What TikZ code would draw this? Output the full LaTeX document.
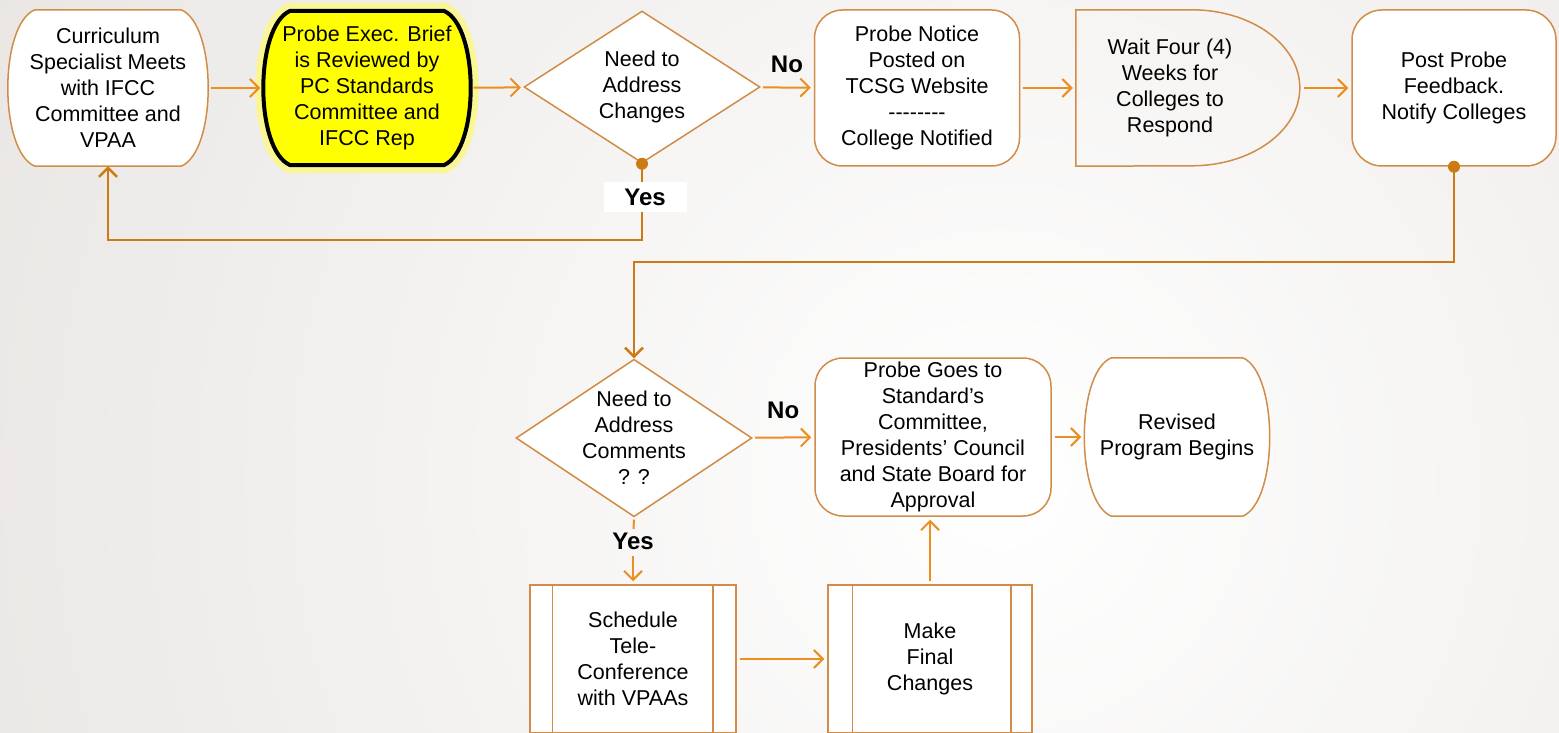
\documentclass[tikz,border=0pt]{standalone}
\usepackage{fontspec}
\setmainfont{Liberation Sans}
\usetikzlibrary{shapes.geometric,arrows.meta}

\definecolor{bordc}{RGB}{208,140,72}
\definecolor{arrc}{RGB}{236,142,32}
\definecolor{linkc}{RGB}{204,122,20}
\definecolor{bggray}{RGB}{212,207,202}
\definecolor{glowc}{RGB}{250,246,150}
\definecolor{briefc}{RGB}{255,255,0}
\pgfdeclarelayer{back}
\pgfdeclarelayer{boxes}
\pgfsetlayers{back,boxes,main}
\newcommand{\dashrow}{\mbox{-}\mbox{-}\mbox{-}\mbox{-}\mbox{-}\mbox{-}\mbox{-}\mbox{-}}
% outline with bulging sides behind a node
\newcommand{\bulgeoutline}[2]{%
    \begin{pgfonlayer}{boxes}
        \draw[bordc, fill=white, line width=1.5pt, #2] ([xshift=27pt]#1.north west) -- ([xshift=-27pt]#1.north east)
            .. controls ([xshift=9pt,yshift=-15pt]#1.north east) and ([xshift=9pt,yshift=15pt]#1.south east) .. ([xshift=-27pt]#1.south east)
            -- ([xshift=27pt]#1.south west)
            .. controls ([xshift=-9pt,yshift=15pt]#1.south west) and ([xshift=-9pt,yshift=-15pt]#1.north west) .. ([xshift=27pt]#1.north west)
            -- cycle;
    \end{pgfonlayer}}

\begin{document}
\begin{tikzpicture}[x=1pt,y=-1pt,
    every node/.style={font=\fontsize{21.5}{26}\selectfont, align=center, text=black},
    endbox/.style={rectangle, inner sep=0pt},
    notebox/.style={rectangle, rounded corners=28pt, draw=bordc, fill=white, line width=1.5pt, inner sep=0pt},
    askbox/.style={diamond, draw=bordc, fill=white, line width=1.5pt, inner sep=-10pt},
    procbox/.style={rectangle, draw=bordc, fill=white, line width=1.5pt, inner sep=0pt},
    answer/.style={font=\fontsize{24}{28}\selectfont\bfseries},
    arr/.style={arrc, line width=2pt, -{Straight Barb[length=9pt,width=18pt]}, shorten >=3pt, shorten <=3pt},
    link/.style={linkc, line width=2.5pt}]
    \useasboundingbox (0,0) rectangle (1559,733);
    \begin{pgfonlayer}{back}
        \clip (0,0) rectangle (1559,733);
        \shade[inner color=white, outer color=bggray] (1000,480) circle (2200pt);
    \end{pgfonlayer}

    % first row
    \node[endbox, minimum width=200pt, minimum height=156pt] (curr) at (108,88) {Curriculum\\Specialist Meets\\with IFCC\\Committee and\\VPAA};
    \bulgeoutline{curr}{}
    \node[endbox, minimum width=207pt, minimum height=154pt] (brief) at (367,88) {Probe Exec. Brief\\is Reviewed by\\PC Standards\\Committee and\\IFCC Rep};
    \bulgeoutline{brief}{fill=briefc, draw=black, line width=4pt, preaction={draw=glowc, line width=16pt}}
    \node[askbox, minimum width=236pt, minimum height=152pt] (dec1) at (642,87) {Need to\\Address\\Changes};
    \node[notebox, minimum width=205pt, minimum height=156pt] (notice) at (917,88) {Probe Notice\\Posted on\\TCSG Website\\\dashrow\\College Notified};
    \node[inner sep=0pt, minimum width=188pt, minimum height=156pt] (wait) at (1170,88) {Wait Four (4)\\Weeks for\\Colleges to\\Respond};
    \draw[bordc, line width=1.5pt] (wait.south west) -- (wait.north west) -- ++(116,0)
        arc[start angle=90, end angle=-90, x radius=108pt, y radius=78pt] -- cycle;
    \node[notebox, rounded corners=30pt, minimum width=204pt, minimum height=156pt] (post) at (1454,88) {Post Probe\\Feedback.\\Notify Colleges};

    % second row
    \node[askbox, minimum width=236pt, minimum height=157pt] (dec2) at (634,438) {Need to\\Address\\Comments\\? ?};
    \node[notebox, minimum width=236pt, minimum height=158pt] (goes) at (933,437) {Probe Goes to\\Standard's\\Committee,\\Presidents' Council\\and State Board for\\Approval};
    \node[endbox, minimum width=185pt, minimum height=158pt] (revised) at (1177,437) {Revised\\Program Begins};
    \bulgeoutline{revised}{}

    % third row
    \node[procbox, minimum width=206pt, minimum height=148pt] (sched) at (633,659) {Schedule\\Tele-\\Conference\\with VPAAs};
    \node[procbox, minimum width=204pt, minimum height=148pt] (final) at (930,659) {Make\\Final\\Changes};
    \draw[bordc, line width=1.5pt] ([xshift=23pt]sched.north west) -- ([xshift=23pt]sched.south west);
    \draw[bordc, line width=1.5pt] ([xshift=-24pt]sched.north east) -- ([xshift=-24pt]sched.south east);
    \draw[bordc, line width=1.5pt] ([xshift=25pt]final.north west) -- ([xshift=25pt]final.south west);
    \draw[bordc, line width=1.5pt] ([xshift=-22pt]final.north east) -- ([xshift=-22pt]final.south east);

    \node[answer, fill=white, minimum width=83pt, minimum height=29pt, inner sep=0pt] (yes1) at (645,197) {Yes};
    \node[answer] (yes2) at (633,541) {Yes};
    \coordinate (yesturn) at (642,240);
    \coordinate (midrow) at (0,262);

    \draw[arr] (curr) -- (brief);
    \draw[arr] (brief) -- (dec1);
    \draw[arr] (dec1) -- node[answer, above=10pt] (no1) {No} (notice);
    \draw[arr] (notice) -- (wait);
    \draw[arr, shorten <=40pt] (wait) -- (post);

    \fill[linkc] (dec1.south) circle (6pt);
    \draw[link] (dec1.south) -- (dec1.south |- yes1.north);
    \draw[link, -{Straight Barb[length=9pt,width=18pt]}] (dec1.south |- yes1.south) -- (yesturn) -| (curr.south);

    \fill[linkc] (post.south) circle (6pt);
    \draw[link, -{Straight Barb[length=9pt,width=18pt]}] (post.south) -- (post.south |- midrow) -| (dec2.north);

    \draw[arr] (dec2) -- node[answer, above=14pt] (no2) {No} (goes);
    \draw[arr] (goes) -- (revised);
    \draw[arrc, line width=2pt, shorten <=2pt] (dec2.south) -- (yes2);
    \draw[arr] (yes2) -- (sched);
    \draw[arr] (sched) -- (final);
    \draw[arr] (final.north) -- (final.north |- goes.south);
\end{tikzpicture}
\end{document}
